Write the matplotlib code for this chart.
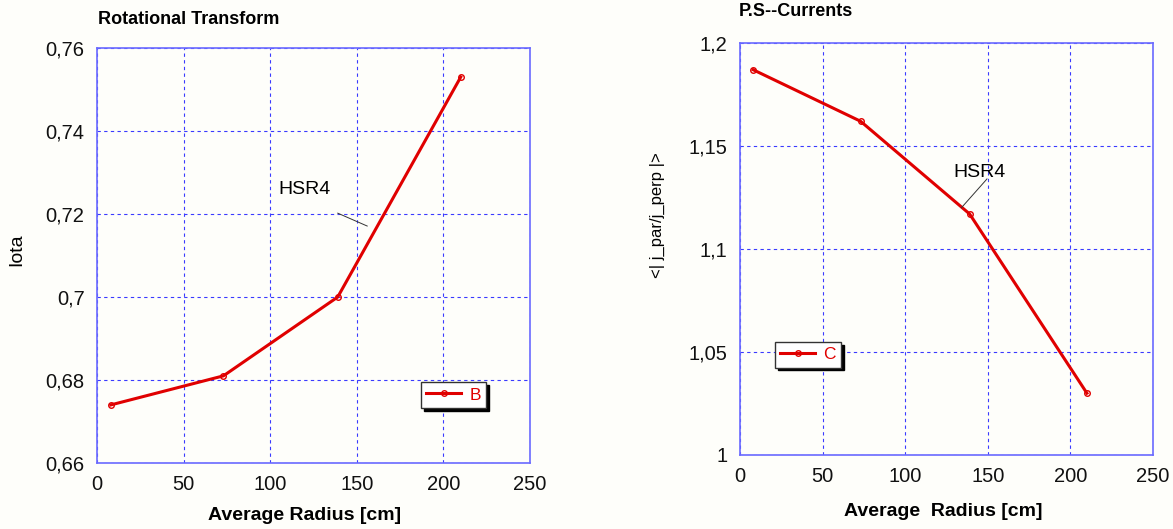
import matplotlib.pyplot as plt
from matplotlib.ticker import FuncFormatter, MultipleLocator

plt.rcParams['font.family'] = ['Liberation Sans', 'DejaVu Sans']

# data
radius = [8, 73, 139, 210]
iota = [0.674, 0.681, 0.700, 0.753]
ps_currents = [1.187, 1.162, 1.117, 1.030]

BG = '#fefefa'
GRID = '#3a3aff'
SPINE = '#6a6aff'
RED = '#e00000'


def comma_fmt(v, pos):
    s = f"{v:.3f}".rstrip('0').rstrip('.')
    return s.replace('.', ',')


def style_axes(ax, ylim, ystep):
    ax.set_facecolor(BG)
    ax.set_xlim(0, 250)
    ax.set_ylim(*ylim)
    ax.xaxis.set_major_locator(MultipleLocator(50))
    ax.yaxis.set_major_locator(MultipleLocator(ystep))
    ax.yaxis.set_major_formatter(FuncFormatter(comma_fmt))
    ax.tick_params(length=0, labelsize=14.5, pad=9, colors='#111111')
    ax.grid(True, color=GRID, linestyle=(0, (3, 3)), linewidth=0.8)
    for sp in ax.spines.values():
        sp.set_color(SPINE)
        sp.set_linewidth(1.2)


fig = plt.figure(figsize=(11.73, 5.29), dpi=100, facecolor=BG)

# left panel
ax1 = fig.add_axes([97 / 1173, 1 - 463 / 529, 433 / 1173, 415 / 529])
style_axes(ax1, (0.66, 0.76), 0.02)
ax1.plot(radius, iota, color=RED, linewidth=2.2, marker='o', markersize=4,
         markerfacecolor='none', markeredgewidth=1, label='B')
ax1.text(120, 0.7258, 'HSR4', fontsize=14, ha='center', va='center')
ax1.plot([139, 156], [0.7202, 0.7171], color='#333333', linewidth=0.7)
fig.text(98 / 1173, 1 - 20 / 529, 'Rotational Transform', fontsize=13,
         fontweight='bold', ha='left', va='center')
fig.text(305 / 1173, 1 - 515 / 529, 'Average Radius [cm]', fontsize=14,
         fontweight='bold', ha='center', va='center')
fig.text(17 / 1173, 1 - 250 / 529, 'Iota', fontsize=14, rotation=90,
         ha='center', va='center')
ax1.legend(loc='center', bbox_to_anchor=(0.824, 0.164), fancybox=False,
           shadow={'color': 'black', 'alpha': 1}, edgecolor='#333333',
           framealpha=1, fontsize=12.5, labelcolor=RED, handlelength=2.0,
           borderpad=0.3, handletextpad=0.5)

# right panel
ax2 = fig.add_axes([740 / 1173, 1 - 455 / 529, 413 / 1173, 412 / 529])
style_axes(ax2, (1.0, 1.2), 0.05)
ax2.plot(radius, ps_currents, color=RED, linewidth=2.2, marker='o', markersize=4,
         markerfacecolor='none', markeredgewidth=1, label='C')
ax2.text(145, 1.137, 'HSR4', fontsize=14, ha='center', va='center')
ax2.plot([149.5, 134], [1.134, 1.120], color='#333333', linewidth=0.7)
fig.text(739 / 1173, 1 - 11 / 529, 'P.S--Currents', fontsize=13,
         fontweight='bold', ha='left', va='center')
fig.text(943 / 1173, 1 - 512 / 529, 'Average  Radius [cm]', fontsize=14,
         fontweight='bold', ha='center', va='center')
fig.text(657 / 1173, 1 - 215 / 529, '<| j_par/j_perp |>', fontsize=12,
         rotation=90, ha='center', va='center')
ax2.legend(loc='center', bbox_to_anchor=(0.165, 0.243), fancybox=False,
           shadow={'color': 'black', 'alpha': 1}, edgecolor='#333333',
           framealpha=1, fontsize=12.5, labelcolor=RED, handlelength=2.0,
           borderpad=0.3, handletextpad=0.5)

fig.savefig('out.png', dpi=100, facecolor=BG)
